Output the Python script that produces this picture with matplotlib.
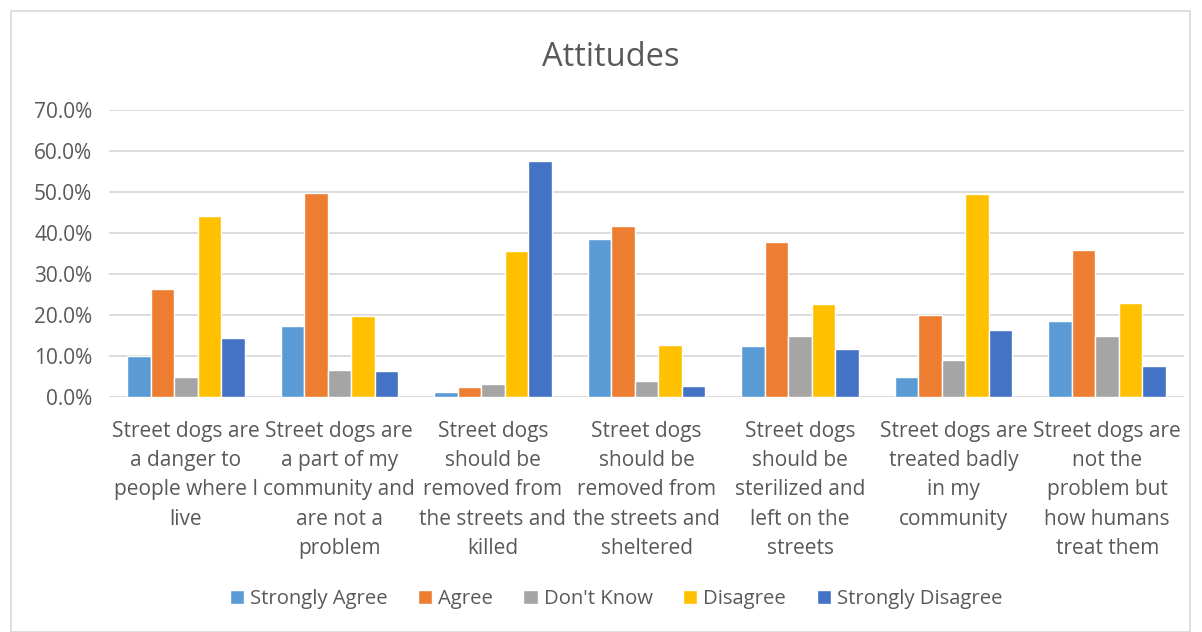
import numpy as np
import matplotlib
matplotlib.use("Agg")
import matplotlib.pyplot as plt
from matplotlib.patches import Rectangle
from matplotlib.ticker import PercentFormatter

categories = [
    "Street dogs are\na danger to\npeople where I\nlive",
    "Street dogs are\na part of my\ncommunity and\nare not a\nproblem",
    "Street dogs\nshould be\nremoved from\nthe streets and\nkilled",
    "Street dogs\nshould be\nremoved from\nthe streets and\nsheltered",
    "Street dogs\nshould be\nsterilized and\nleft on the\nstreets",
    "Street dogs are\ntreated badly\nin my\ncommunity",
    "Street dogs are\nnot the\nproblem but\nhow humans\ntreat them",
]

series_names = ["Strongly Agree", "Agree", "Don't Know", "Disagree", "Strongly Disagree"]
strongly_agree = [10.0, 17.2, 1.1, 38.5, 12.4, 4.8, 18.5]
agree = [26.4, 49.8, 2.4, 41.6, 37.9, 19.9, 35.8]
dont_know = [5.0, 6.7, 3.1, 4.0, 14.8, 9.0, 14.8]
disagree = [44.1, 19.7, 35.7, 12.8, 22.8, 49.4, 23.0]
strongly_disagree = [14.3, 6.3, 57.5, 2.8, 11.6, 16.3, 7.6]
series_values = [strongly_agree, agree, dont_know, disagree, strongly_disagree]
colors = ["#5B9BD5", "#ED7D31", "#A5A5A5", "#FFC000", "#4472C4"]

yticks = [0, 10, 20, 30, 40, 50, 60, 70]

text_color = "#595959"
plt.rcParams["font.family"] = ["Open Sans", "DejaVu Sans"]

fig = plt.figure(figsize=(12.02, 6.32), dpi=100)
fig.patches.append(Rectangle((11 / 1202, 0.0), 1179 / 1202, 1 - 11 / 632,
                             transform=fig.transFigure, fill=False,
                             edgecolor="#D9D9D9", linewidth=1.2))

ax = fig.add_axes([109 / 1202, 1 - 397 / 632, (1184 - 109) / 1202, (397 - 110) / 632])

x = np.arange(len(categories))
pitch = 0.153
for i, (name, vals, c) in enumerate(zip(series_names, series_values, colors)):
    offs = (i - 2) * pitch
    ax.bar(x + offs, vals, width=pitch, color=c, edgecolor="white",
           linewidth=1.0, label=name, zorder=3)

ax.set_xlim(-0.5, len(categories) - 0.5)
ax.set_ylim(0, 70)
ax.set_yticks(yticks)
ax.yaxis.set_major_formatter(PercentFormatter(decimals=1))
ax.set_xticks(x)
ax.set_xticklabels(categories, fontsize=15, color=text_color, linespacing=1.52)
ax.tick_params(axis="both", length=0, labelcolor=text_color)
ax.tick_params(axis="y", labelsize=15, pad=12)
ax.tick_params(axis="x", pad=17)
for s in ax.spines.values():
    s.set_visible(False)
ax.grid(axis="y", color="#D9D9D9", linewidth=1.3, zorder=0)

fig.text(611 / 1202, 1 - 58 / 632, "Attitudes", ha="center", va="center",
         fontsize=23.5, color=text_color)

fig.legend(loc="center", bbox_to_anchor=(616 / 1202, 1 - 599 / 632), ncol=5,
           frameon=False, fontsize=14.6, labelcolor=text_color,
           handlelength=0.7, handleheight=0.7, handletextpad=0.3,
           columnspacing=1.5)

fig.savefig("out.png", dpi=100, facecolor="white")
